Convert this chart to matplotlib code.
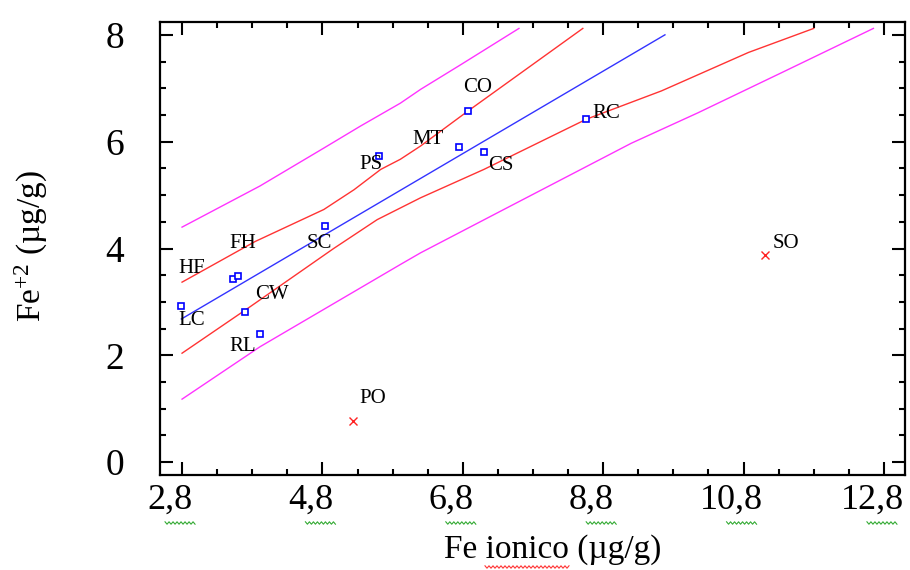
import matplotlib
matplotlib.use("Agg")
import matplotlib.pyplot as plt
import matplotlib.transforms as mtransforms
from matplotlib.lines import Line2D
from matplotlib.ticker import MultipleLocator, FixedLocator, FuncFormatter

plt.rcParams['font.family'] = ['Liberation Serif', 'DejaVu Serif']
plt.rcParams['mathtext.fontset'] = 'custom'
plt.rcParams['mathtext.rm'] = 'Liberation Serif'
plt.rcParams['mathtext.it'] = 'Liberation Serif:italic'

# ---- data ----
sample_names = ["LC", "HF", "FH", "CW", "RL", "SC", "PS", "MT", "CO", "CS", "RC"]
sample_x = [2.79, 3.53, 3.60, 3.69, 3.91, 4.84, 5.61, 6.74, 6.87, 7.10, 8.56]
sample_y = [2.92, 3.43, 3.48, 2.82, 2.40, 4.43, 5.73, 5.90, 6.57, 5.80, 6.43]

outlier_names = ["PO", "SO"]
outlier_x = [5.24, 11.10]
outlier_y = [0.77, 3.87]

fit_x = [2.79, 9.68]
fit_y = [2.68, 8.00]

conf_up_x = [2.80, 3.84, 4.82, 5.25, 5.63, 5.91, 6.20, 6.87, 8.51]
conf_up_y = [3.37, 4.13, 4.73, 5.10, 5.48, 5.67, 5.92, 6.57, 8.12]
conf_lo_x = [2.80, 3.77, 4.96, 5.58, 6.20, 7.10, 8.56, 9.63, 10.87, 11.80]
conf_lo_y = [2.04, 2.91, 4.00, 4.54, 4.95, 5.48, 6.42, 6.95, 7.67, 8.12]

pred_up_x = [2.80, 3.91, 4.82, 5.34, 5.91, 6.20, 6.77, 7.60]
pred_up_y = [4.40, 5.17, 5.88, 6.29, 6.72, 6.98, 7.44, 8.12]
pred_lo_x = [2.80, 3.91, 5.91, 6.20, 7.34, 9.20, 10.15, 11.34, 12.65]
pred_lo_y = [1.18, 2.16, 3.70, 3.92, 4.70, 5.97, 6.54, 7.29, 8.12]

# label positions (text centres)
label_names = ["HF", "FH", "LC", "CW", "RL", "SC", "PO", "PS", "MT", "CO", "CS", "RC", "SO"]
label_x = [2.94, 3.67, 2.94, 4.08, 3.67, 4.76, 5.52, 5.49, 6.30, 7.01, 7.34, 8.84, 11.41]
label_y = [3.62, 4.10, 2.65, 3.13, 2.16, 4.10, 1.19, 5.57, 6.04, 7.01, 5.55, 6.53, 4.10]

x_ticks = [2.8, 4.8, 6.8, 8.8, 10.8, 12.8]
y_ticks = [0, 2, 4, 6, 8]

# ---- figure ----
W, H = 910, 570
fig = plt.figure(figsize=(W/100, H/100), dpi=100)
ax = fig.add_axes([160/W, 1-475/H, 745/W, 453/H])

ax.plot(pred_up_x, pred_up_y, color='#ff33ff', lw=1.0)
ax.plot(pred_lo_x, pred_lo_y, color='#ff33ff', lw=1.0)
ax.plot(conf_up_x, conf_up_y, color='#ff3333', lw=1.0)
ax.plot(conf_lo_x, conf_lo_y, color='#ff3333', lw=1.0)
ax.plot(fit_x, fit_y, color='#3333ff', lw=1.0)

ax.plot(sample_x, sample_y, ls='none', marker='s', ms=5, mfc='white',
        mec='#0000ff', mew=1.2)
ax.plot(outlier_x, outlier_y, ls='none', marker='x', ms=6, color='#ff2222', mew=1.0)

for n, tx, ty in zip(label_names, label_x, label_y):
    ax.text(tx, ty, n, ha='center', va='center', fontsize=15, color='black')

ax.set_xlim(2.486, 13.1)
ax.set_ylim(-0.24, 8.24)

ax.xaxis.set_major_locator(FixedLocator(x_ticks))
ax.xaxis.set_minor_locator(FixedLocator([2.8 + 0.5*i for i in range(-1, 22)]))
ax.yaxis.set_major_locator(FixedLocator(y_ticks))
ax.yaxis.set_minor_locator(MultipleLocator(0.5))
ax.xaxis.set_major_formatter(FuncFormatter(lambda v, p: f"{v:.1f}".replace('.', ',')))
ax.yaxis.set_major_formatter(FuncFormatter(lambda v, p: f"{v:.0f}"))

ax.tick_params(which='both', direction='in', top=True, right=True, width=1.5)
ax.tick_params(which='major', length=9.5)
ax.tick_params(which='minor', length=4.5)
ax.tick_params(axis='x', which='major', pad=6, labelsize=26)
ax.tick_params(axis='y', which='major', pad=26, labelsize=27)
for s in ax.spines.values():
    s.set_linewidth(1.6)

# x tick labels sit a little left of their ticks in the reference
shift = mtransforms.ScaledTranslation(-12/100, 0, fig.dpi_scale_trans)
for lab in ax.get_xticklabels():
    lab.set_transform(lab.get_transform() + shift)

fig.text(553/W, 1-550/H, "Fe ionico (\u00b5g/g)", ha='center', va='center', fontsize=24)
fig.text(31/W, 1-246/H, "Fe$^{+2}$ (\u00b5g/g)", ha='center', va='center', fontsize=24,
         rotation=90)

# spell-check style wavy underlines seen in the reference (decoration)
def zigzag(x0, x1, y, color):
    xs, ys = [], []
    n = int((x1 - x0) / 2)
    for i in range(n + 1):
        xs.append((x0 + 2*i) / W)
        ys.append(1 - (y + (1.2 if i % 2 else -1.2)) / H)
    fig.add_artist(Line2D(xs, ys, transform=fig.transFigure, color=color, lw=0.8))

for t in x_ticks:
    px = ax.transData.transform((t, 0))[0]
    zigzag(px - 17, px + 13, 523, '#33aa33')
zigzag(485, 570, 567, '#ff3333')

fig.savefig("out.png", dpi=100)
